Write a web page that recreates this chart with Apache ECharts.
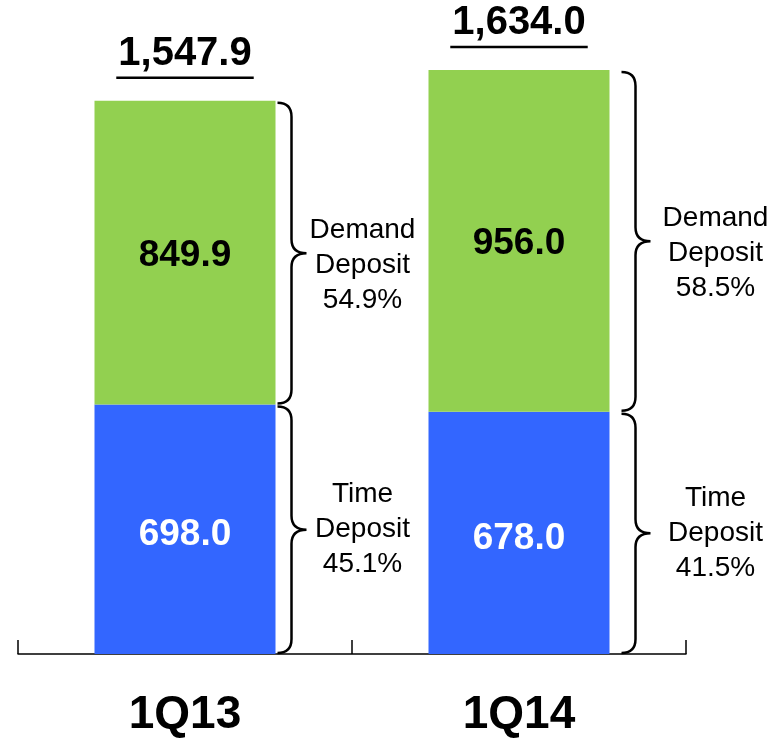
<!DOCTYPE html>
<html>
<head>
<meta charset="utf-8">
<script src="https://cdn.jsdelivr.net/npm/echarts@6/dist/echarts.min.js"></script>
<style>
  html, body { margin: 0; padding: 0; background: #ffffff; overflow: hidden; }
  #chart { width: 775px; height: 738px; }
</style>
</head>
<body>
<div id="chart"></div>
<script>
// ---- data ----
const categories = ['1Q13', '1Q14'];
const timeDeposit = [698.0, 678.0];
const demandDeposit = [849.9, 956.0];
const totals = [1547.9, 1634.0];
const totalLabels = ['1,547.9', '1,634.0'];
const demandShare = ['54.9%', '58.5%'];
const timeShare = ['45.1%', '41.5%'];
const demandName = 'Demand\nDeposit';
const timeName = 'Time\nDeposit';

// ---- style constants ----
const FONT = "'Liberation Sans', Arial, Helvetica, sans-serif";
const BAR_W = 181;
const BRACE_GAP = [2, 12];      // px from bar right edge to brace start, per category
const TEXT_OFF = [87, 106];     // px from bar right edge to text centre, per category
const GREEN = '#92D050';
const BLUE = '#3366FF';

const chart = echarts.init(document.getElementById('chart'), null, { renderer: 'canvas' });

// brace rows: [categoryIndex, start, end, label, textDy]
const braceData = [];
categories.forEach((c, i) => {
  braceData.push([i, 0, timeDeposit[i], timeName + '\n' + timeShare[i], 0]);
  braceData.push([i, timeDeposit[i], timeDeposit[i] + demandDeposit[i], demandName + '\n' + demandShare[i], 12]);
});
const totalData = categories.map((c, i) => [i, totals[i], totalLabels[i]]);

const measureCtx = document.createElement('canvas').getContext('2d');
function textWidth(txt, font) { measureCtx.font = font; return measureCtx.measureText(txt).width; }

function renderBrace(params, api) {
  const idx = api.value(0);
  const pA = api.coord([idx, api.value(1)]);
  const pB = api.coord([idx, api.value(2)]);
  const barRight = pA[0] + BAR_W / 2;
  const x0 = barRight + BRACE_GAP[idx];
  const xs = x0 + 14;
  const xt = xs + 15;
  const y0 = pB[1] + 2;           // top
  const y1 = pA[1] - 1;           // bottom
  const ym = (y0 + y1) / 2;
  const r = 14;
  const d = 'M' + x0 + ',' + y0 +
    ' Q' + xs + ',' + y0 + ' ' + xs + ',' + (y0 + r) +
    ' L' + xs + ',' + (ym - r) +
    ' Q' + xs + ',' + ym + ' ' + xt + ',' + ym +
    ' Q' + xs + ',' + ym + ' ' + xs + ',' + (ym + r) +
    ' L' + xs + ',' + (y1 - r) +
    ' Q' + xs + ',' + y1 + ' ' + x0 + ',' + y1;
  const lbl = braceData[params.dataIndex][3];
  const dy = braceData[params.dataIndex][4];
  return {
    type: 'group',
    children: [
      {
        type: 'path',
        shape: { pathData: d },
        style: { fill: null, stroke: '#000', lineWidth: 2.5 }
      },
      {
        type: 'text',
        style: {
          text: lbl,
          x: barRight + TEXT_OFF[idx],
          y: ym + dy,
          align: 'center',
          verticalAlign: 'middle',
          fontFamily: FONT,
          fontSize: 28,
          lineHeight: 35,
          fill: '#000'
        }
      }
    ]
  };
}

function renderTotal(params, api) {
  const idx = api.value(0);
  const p = api.coord([idx, api.value(1)]);
  const txt = totalData[params.dataIndex][2];
  const font = 'bold 40px ' + FONT;
  const w = textWidth(txt, font) + 4;
  return {
    type: 'group',
    children: [
      {
        type: 'text',
        style: {
          text: txt,
          x: p[0],
          y: p[1] - 47,
          align: 'center',
          verticalAlign: 'middle',
          fontFamily: FONT,
          fontSize: 40,
          fontWeight: 'bold',
          fill: '#000'
        }
      },
      {
        type: 'line',
        shape: { x1: p[0] - w / 2, y1: p[1] - 23, x2: p[0] + w / 2, y2: p[1] - 23 },
        style: { stroke: '#000', lineWidth: 2.5 }
      }
    ]
  };
}

chart.setOption({
  animation: false,
  backgroundColor: '#ffffff',
  grid: { left: 18, right: 89, top: 70, bottom: 81, containLabel: false },
  xAxis: {
    type: 'category',
    data: categories,
    boundaryGap: true,
    axisLine: { show: true, lineStyle: { color: '#000', width: 1.5 } },
    axisTick: { show: true, inside: true, length: 14, alignWithLabel: false, interval: 0, lineStyle: { color: '#000', width: 1.5 } },
    axisLabel: { show: true, margin: 38, color: '#000', fontFamily: FONT, fontSize: 46, fontWeight: 'bold', interval: 0 },
    splitLine: { show: false }
  },
  yAxis: { type: 'value', min: 0, max: 1634, show: false, splitLine: { show: false } },
  series: [
    {
      name: 'Time Deposit', type: 'bar', stack: 'dep', data: timeDeposit, barWidth: BAR_W,
      itemStyle: { color: BLUE },
      label: { show: true, position: 'inside', offset: [0, 6], color: '#fff', fontFamily: FONT, fontSize: 37, fontWeight: 'bold',
        formatter: p => p.value.toFixed(1) }
    },
    {
      name: 'Demand Deposit', type: 'bar', stack: 'dep', data: demandDeposit, barWidth: BAR_W,
      itemStyle: { color: GREEN },
      label: { show: true, position: 'inside', offset: [0, 3], color: '#000', fontFamily: FONT, fontSize: 37, fontWeight: 'bold',
        formatter: p => p.value.toFixed(1) }
    },
    {
      name: 'braces', type: 'custom', data: braceData, renderItem: renderBrace,
      encode: { x: 0, y: [1, 2] }, silent: true, clip: false, z: 5
    },
    {
      name: 'totals', type: 'custom', data: totalData.map(r => [r[0], r[1]]), renderItem: renderTotal,
      encode: { x: 0, y: 1 }, silent: true, clip: false, z: 5
    }
  ]
});
</script>
</body>
</html>
